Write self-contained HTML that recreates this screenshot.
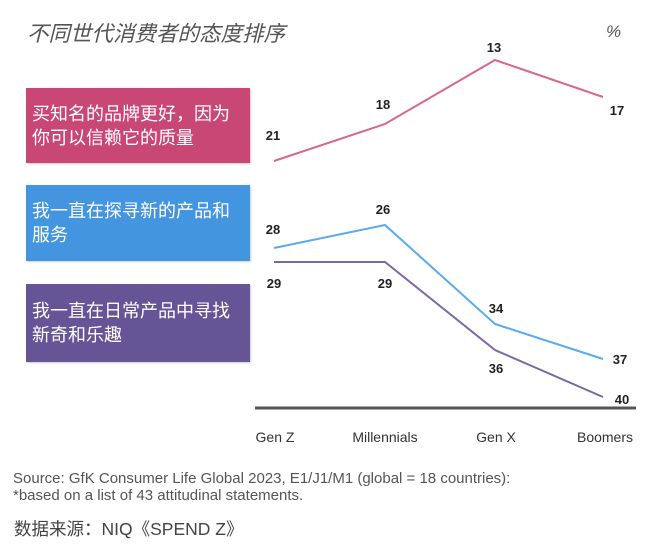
<!DOCTYPE html>
<html><head><meta charset="utf-8"><style>
body{margin:0;width:668px;height:550px;background:#fff;position:relative;overflow:hidden;font-family:"Liberation Sans","Noto Sans CJK SC",sans-serif}
.t{position:absolute;white-space:nowrap}
.box{position:absolute;left:26px;width:224px;color:#fff;font-size:18px;line-height:24px;padding:0 0 0 6px;box-sizing:border-box;display:flex;align-items:center;box-shadow:1px 1px 2px rgba(0,0,0,.2)}
</style></head><body>
<div class="t" style="left:27px;top:17px;font-size:21.5px;font-style:italic;color:#555">不同世代消费者的态度排序</div>
<div class="t" style="left:606px;top:22px;font-size:17px;font-style:italic;color:#555">%</div>
<div class="box" style="top:88px;height:75px;background:#c94775">买知名的品牌更好，因为<br>你可以信赖它的质量</div>
<div class="box" style="top:185px;height:76px;background:#4395df">我一直在探寻新的产品和<br>服务</div>
<div class="box" style="top:284px;height:78px;background:#665596">我一直在日常产品中寻找<br>新奇和乐趣</div>
<svg width="668" height="550" style="position:absolute;left:0;top:0">
<g fill="none" stroke-width="2">
<polyline stroke="#d9668e" points="274,161 385,124 495,60 603,97"/>
<polyline stroke="#5aaaf0" points="274,248 385,225 495,324 603,359"/>
<polyline stroke="#7a68a8" points="274,262 385,262 495,350 603,397"/>
</g>
<line x1="255" y1="408" x2="636" y2="408" stroke="#555" stroke-width="3"/>
<g font-family="Liberation Sans" font-weight="bold" font-size="13" fill="#222" text-anchor="middle">
<text x="273" y="140">21</text><text x="383" y="109">18</text><text x="494" y="52">13</text><text x="617" y="115">17</text>
<text x="273" y="234">28</text><text x="383" y="214">26</text><text x="496" y="313">34</text><text x="620" y="364">37</text>
<text x="274" y="288">29</text><text x="385" y="288">29</text><text x="496" y="373">36</text><text x="622" y="404">40</text>
</g>
<g font-family="Liberation Sans" font-size="14" fill="#333" text-anchor="middle">
<text x="275" y="442">Gen Z</text><text x="385" y="442">Millennials</text><text x="496" y="442">Gen X</text><text x="605" y="442">Boomers</text>
</g>
</svg>
<div class="t" style="left:13px;top:470px;font-size:15px;color:#555;line-height:17px">Source: GfK Consumer Life Global 2023, E1/J1/M1 (global = 18 countries):<br>*based on a list of 43 attitudinal statements.</div>
<div class="t" style="left:14px;top:516px;font-size:17.5px;color:#444">数据来源：NIQ《SPEND Z》</div>
</body></html>
